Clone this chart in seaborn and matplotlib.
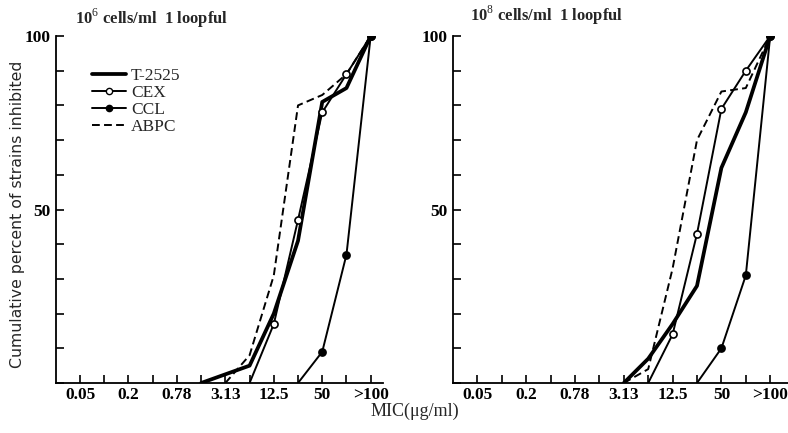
import matplotlib
matplotlib.use("Agg")
import matplotlib.pyplot as plt
from matplotlib.lines import Line2D
import seaborn as sns
import pandas as pd

sns.set_theme(style="ticks")
plt.rcParams["font.family"] = ["Liberation Serif", "DejaVu Serif"]
plt.rcParams["mathtext.fontset"] = "custom"
plt.rcParams["mathtext.rm"] = "Liberation Serif"

# MIC dilution steps (µg/ml)
categories = ["0.05", "0.1", "0.2", "0.39", "0.78", "1.56", "3.13",
              "6.25", "12.5", "25", "50", "100", ">100"]
labelled = ["0.05", "0.2", "0.78", "3.13", "12.5", "50", ">100"]

# 10^6 cells/ml inoculum
t2525_a_mic = ["1.56", "6.25", "12.5", "25", "50", "100", ">100"]
t2525_a_pct = [0, 5, 20, 41, 81, 85, 100]
cex_a_mic = ["6.25", "12.5", "25", "50", "100", ">100"]
cex_a_pct = [0, 17, 47, 78, 89, 100]
ccl_a_mic = ["25", "50", "100", ">100"]
ccl_a_pct = [0, 9, 37, 100]
abpc_a_mic = ["3.13", "6.25", "12.5", "25", "50", "100", ">100"]
abpc_a_pct = [0, 8, 31, 80, 83, 89, 100]

# 10^8 cells/ml inoculum
t2525_b_mic = ["3.13", "6.25", "12.5", "25", "50", "100", ">100"]
t2525_b_pct = [0, 7, 17, 28, 62, 78, 100]
cex_b_mic = ["6.25", "12.5", "25", "50", "100", ">100"]
cex_b_pct = [0, 14, 43, 79, 90, 100]
ccl_b_mic = ["25", "50", "100", ">100"]
ccl_b_pct = [0, 10, 31, 100]
abpc_b_mic = ["3.13", "6.25", "12.5", "25", "50", "100", ">100"]
abpc_b_pct = [0, 4, 33, 70, 84, 85, 100]

drugs = ["T-2525", "CEX", "CCL", "ABPC"]
styles = {
    "T-2525": dict(lw=2.7, ls="-", marker=None, mfc=None),
    "CEX": dict(lw=1.4, ls="-", marker="o", mfc="white"),
    "CCL": dict(lw=1.4, ls="-", marker="o", mfc="black"),
    "ABPC": dict(lw=1.4, ls=(0, (4, 2.2)), marker=None, mfc=None),
}

panels = [
    {"T-2525": (t2525_a_mic, t2525_a_pct), "CEX": (cex_a_mic, cex_a_pct),
     "CCL": (ccl_a_mic, ccl_a_pct), "ABPC": (abpc_a_mic, abpc_a_pct)},
    {"T-2525": (t2525_b_mic, t2525_b_pct), "CEX": (cex_b_mic, cex_b_pct),
     "CCL": (ccl_b_mic, ccl_b_pct), "ABPC": (abpc_b_mic, abpc_b_pct)},
]

W, H = 788, 433
fig = plt.figure(figsize=(W / 100, H / 100), dpi=100)
ax_l = fig.add_axes([55.8 / W, 50 / H, 327 / W, 347 / H])
ax_r = fig.add_axes([453 / W, 50 / H, 335 / W, 347 / H])
xlims = [(-1, 12.5), (-1, -1 + 335 / 24.4)]

for ax, series, xl in zip([ax_l, ax_r], panels, xlims):
    for name in drugs:
        mic, pct = series[name]
        st = styles[name]
        df = pd.DataFrame({"pos": [categories.index(m) for m in mic], "pct": pct})
        sns.lineplot(data=df, x="pos", y="pct", ax=ax, color="black",
                     linewidth=st["lw"], linestyle=st["ls"], sort=False,
                     legend=False)
        if st["marker"]:
            pts = df[df["pct"] > 0]
            sns.scatterplot(data=pts, x="pos", y="pct", ax=ax, marker="o",
                            s=26, color=st["mfc"], edgecolor="black",
                            linewidth=1.2, zorder=4, legend=False)
    ax.set_xlim(*xl)
    ax.set_ylim(0, 100)
    ax.set_xticks(range(len(categories)))
    ax.set_xticklabels([c if c in labelled else "" for c in categories])
    ax.set_yticks(range(0, 101, 10))
    ax.set_yticklabels([str(v) if v in (50, 100) else "" for v in range(0, 101, 10)])
    ax.tick_params(axis="both", direction="in", length=6, width=1.2,
                   labelsize=12.5, colors="black")
    ax.tick_params(axis="x", pad=3)
    ax.tick_params(axis="y", pad=4)
    for s in ("top", "right"):
        ax.spines[s].set_visible(False)
    for s in ("left", "bottom"):
        ax.spines[s].set_linewidth(1.3)
        ax.spines[s].set_color("black")
    ax.set_xlabel("")
    ax.set_ylabel("")
    ax.patch.set_visible(False)
    for lab in ax.get_xticklabels() + ax.get_yticklabels():
        lab.set_fontweight("bold")

# legend in the left panel
handles = []
for name in drugs:
    st = styles[name]
    handles.append(Line2D([], [], color="black", lw=st["lw"], ls=st["ls"],
                          marker=st["marker"] or "", markersize=4.5,
                          markerfacecolor=st["mfc"] or "black",
                          markeredgecolor="black"))
ax_l.legend(handles, drugs, loc="upper left",
            bbox_to_anchor=(0.11, 0.908), frameon=False, handlelength=2.0,
            handletextpad=0.25, labelspacing=0.04, borderpad=0,
            borderaxespad=0, prop={"family": "Liberation Serif", "size": 12.5})

fig.text(75 / W, 1 - 18 / H, r"10$^6$ cells/ml  1 loopful", fontsize=12,
         fontweight="bold", va="center", ha="left")
fig.text(470 / W, 1 - 15 / H, r"10$^8$ cells/ml  1 loopful", fontsize=12,
         fontweight="bold", va="center", ha="left")
fig.text(18 / W, 1 - 214 / H, "Cumulative percent of strains inhibited",
         rotation=90, va="center", ha="center", fontsize=11.3,
         family="DejaVu Sans")
fig.text(415 / W, 1 - 411 / H, "MIC(μg/ml)", fontsize=13, va="center",
         ha="center")

fig.savefig("out.png", dpi=100, facecolor="white")
